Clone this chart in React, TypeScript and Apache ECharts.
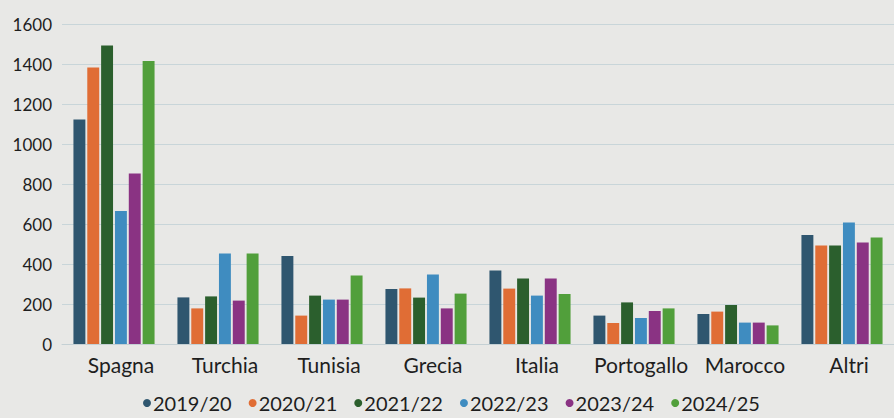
import React, { useEffect, useRef } from "react";
import * as echarts from "echarts";

const categories = ["Spagna", "Turchia", "Tunisia", "Grecia", "Italia", "Portogallo", "Marocco", "Altri"];
const seasons = ["2019/20", "2020/21", "2021/22", "2022/23", "2023/24", "2024/25"];
const s1920 = [1123, 233, 440, 275, 367, 142, 150, 545];
const s2021 = [1383, 178, 142, 278, 277, 105, 162, 492];
const s2122 = [1492, 238, 242, 232, 328, 208, 195, 492];
const s2223 = [665, 453, 222, 347, 242, 130, 107, 607];
const s2324 = [853, 217, 222, 178, 328, 165, 107, 507];
const s2425 = [1415, 453, 342, 252, 250, 178, 93, 533];
const yTicks = [0, 200, 400, 600, 800, 1000, 1200, 1400, 1600];
const colors = ["#2f566f", "#e06d35", "#2b5f2d", "#3f8cc0", "#8a3383", "#519f3b"];

export default function App() {
  const ref = useRef<HTMLDivElement>(null);
  useEffect(() => {
    const chart = echarts.init(ref.current!, null, { renderer: "svg" });
    const data = [s1920, s2021, s2122, s2223, s2324, s2425];
    chart.setOption({
      animation: false,
      backgroundColor: "#e8e8e6",
      color: colors,
      textStyle: { fontFamily: "Lato" },
      grid: { left: 62, right: -12, top: 24, bottom: 74 },
      legend: {
        top: 393,
        left: 143,
        padding: 0,
        icon: "circle",
        itemWidth: 8,
        itemHeight: 8,
        itemGap: 17,
        textStyle: {
          fontSize: 20,
          lineHeight: 20,
          color: "#1e1e1e",
          fontFamily: "Lato",
          padding: [0, 0, 0, -3],
        },
        data: seasons,
      },
      xAxis: {
        type: "category",
        data: categories,
        axisLine: { show: true, lineStyle: { color: "#c4d0d4", width: 1 } },
        axisTick: { show: false },
        axisLabel: {
          interval: 0,
          fontSize: 21,
          color: "#1e1e1e",
          margin: 10,
          fontFamily: "Lato",
          padding: [0, 0, 0, 14],
        },
      },
      yAxis: {
        type: "value",
        min: yTicks[0],
        max: yTicks[yTicks.length - 1],
        interval: 200,
        axisLine: { show: false },
        axisTick: { show: false },
        splitLine: { lineStyle: { color: "#c8d5d9", width: 1 } },
        axisLabel: {
          fontSize: 17,
          color: "#1e1e1e",
          margin: 10,
          fontFamily: "Lato",
          formatter: (v: number) => String(v),
        },
      },
      series: seasons.map((name, i) => ({
        name,
        type: "bar",
        data: data[i],
        barGap: "16%",
        barCategoryGap: "22%",
      })),
    });
    return () => chart.dispose();
  }, []);
  return <div ref={ref} style={{ width: 894, height: 418, position: "absolute", left: 0, top: 0 }} />;
}
